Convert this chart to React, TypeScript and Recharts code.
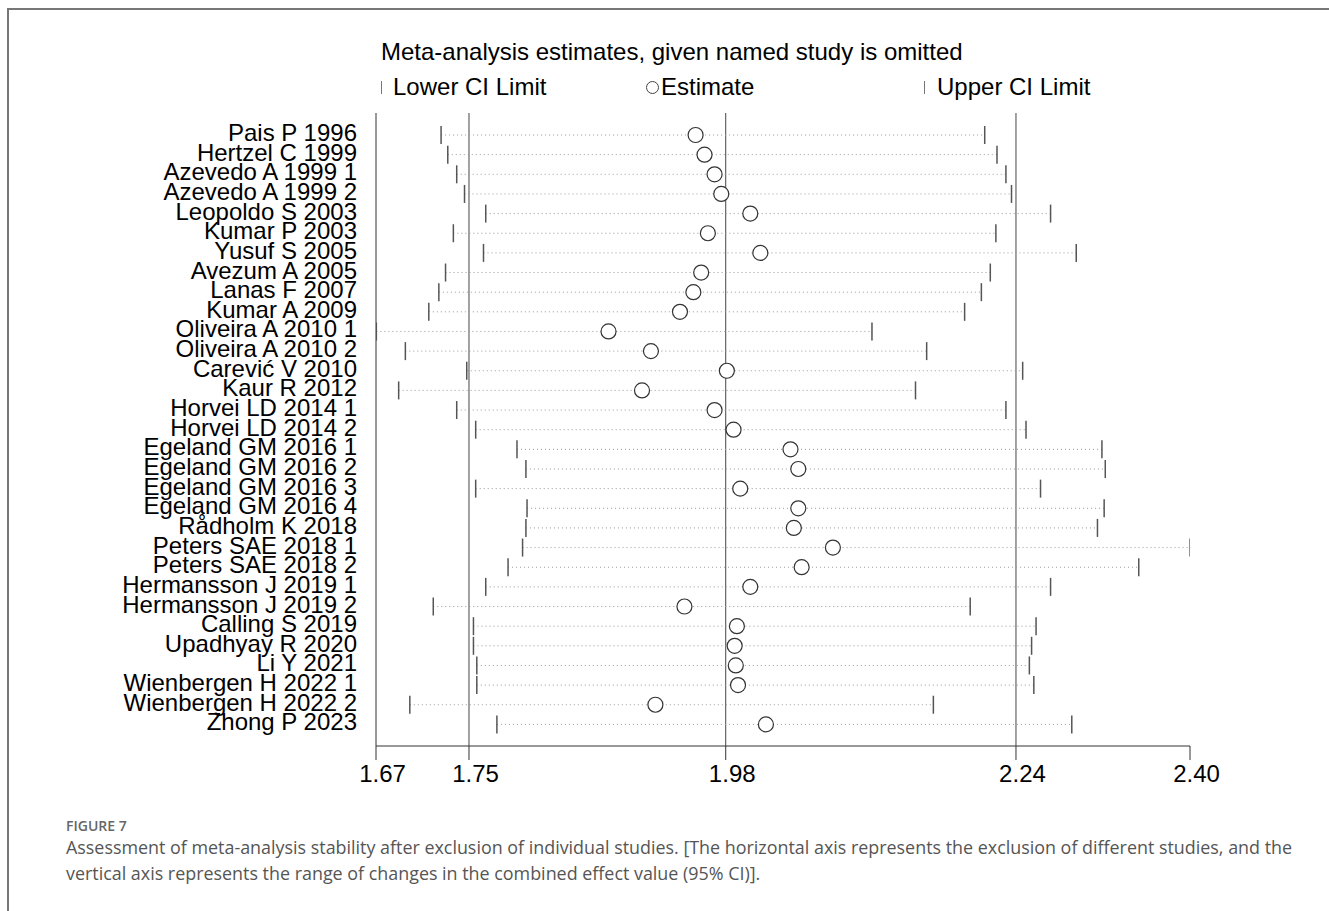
import React from "react"
import {
  ComposedChart, Scatter, XAxis, YAxis, ReferenceLine, ErrorBar
} from "recharts"

// study omitted, estimate and CI when that study is left out
const studies = [
  "Pais P 1996", "Hertzel C 1999", "Azevedo A 1999 1", "Azevedo A 1999 2",
  "Leopoldo S 2003", "Kumar P 2003", "Yusuf S 2005", "Avezum A 2005",
  "Lanas F 2007", "Kumar A 2009", "Oliveira A 2010 1", "Oliveira A 2010 2",
  "Carević V 2010", "Kaur R 2012", "Horvei LD 2014 1", "Horvei LD 2014 2",
  "Egeland GM 2016 1", "Egeland GM 2016 2", "Egeland GM 2016 3", "Egeland GM 2016 4",
  "Rådholm K 2018", "Peters SAE 2018 1", "Peters SAE 2018 2", "Hermansson J 2019 1",
  "Hermansson J 2019 2", "Calling S 2019", "Upadhyay R 2020", "Li Y 2021",
  "Wienbergen H 2022 1", "Wienbergen H 2022 2", "Zhong P 2023",
]

const lower = [
  1.725, 1.731, 1.739, 1.746, 1.765, 1.736, 1.763, 1.729,
  1.723, 1.714, 1.667, 1.693, 1.748, 1.687, 1.739, 1.756,
  1.793, 1.801, 1.756, 1.802, 1.801, 1.798, 1.785, 1.765,
  1.718, 1.754, 1.754, 1.757, 1.757, 1.697, 1.775,
]

const estimate = [
  1.953, 1.961, 1.970, 1.976, 2.002, 1.964, 2.011, 1.958,
  1.951, 1.939, 1.875, 1.913, 1.981, 1.905, 1.970, 1.987,
  2.038, 2.045, 1.993, 2.045, 2.041, 2.076, 2.048, 2.002,
  1.943, 1.990, 1.988, 1.989, 1.991, 1.917, 2.016,
]

const upper = [
  2.212, 2.223, 2.231, 2.236, 2.271, 2.222, 2.294, 2.217,
  2.209, 2.194, 2.111, 2.160, 2.246, 2.150, 2.231, 2.249,
  2.317, 2.320, 2.262, 2.319, 2.313, 2.396, 2.350, 2.271,
  2.199, 2.258, 2.254, 2.252, 2.256, 2.166, 2.290,
]

// overall estimate and its CI (vertical lines)
const refLines = [1.75, 1.98, 2.24]
const xTicks = [1.6667, 1.75, 1.98, 2.24, 2.3959]

const rows = studies.map((s, i) => i + 1)
const estData = rows.map((pos, i) => ({
  x: estimate[i], y: pos, err: [estimate[i] - lower[i], upper[i] - estimate[i]],
}))
const lowData = rows.map((pos, i) => ({ x: lower[i], y: pos }))
const highData = rows.map((pos, i) => ({ x: upper[i], y: pos }))

const FONT = "'Liberation Sans', Arial, sans-serif"
const CAPTION_FONT = "'Open Sans', 'Noto Sans', sans-serif"

const StudyTick = (props: any) => {
  const { x, y, payload } = props
  return (
    <text x={x - 11} y={y + 6} textAnchor="end" fontSize={24} fontFamily={FONT} fill="#000">
      {studies[payload.value - 1]}
    </text>
  )
}

const ValueTick = (props: any) => {
  const { x, y, payload } = props
  return (
    <text x={x + 6.5} y={y + 20} textAnchor="middle" fontSize={24} fontFamily={FONT} fill="#000">
      {Number(payload.value).toFixed(2)}
    </text>
  )
}

const CiTick = (props: any) => (
  <line x1={props.cx} x2={props.cx} y1={props.cy - 9} y2={props.cy + 9} stroke="#555" strokeWidth={1.5} />
)

const Ring = (props: any) => (
  <circle cx={props.cx} cy={props.cy} r={7.5} fill="#fff" stroke="#333" strokeWidth={1.2} />
)

const Blank = () => <g />

export default function App() {
  return (
    <div style={{ position: "absolute", left: 0, top: 0, width: 1329, height: 911, background: "#fff", overflow: "hidden" }}>
      <div style={{ position: "absolute", left: 7, top: 8, width: 1340, height: 920, borderTop: "2px solid #777", borderLeft: "2px solid #777" }} />

      <div style={{ position: "absolute", left: 381, top: 40, fontFamily: FONT, fontSize: 24, lineHeight: "24px", whiteSpace: "nowrap" }}>
        Meta-analysis estimates, given named study is omitted
      </div>
      <div style={{ position: "absolute", left: 0, top: 75, width: 1329, height: 26, fontFamily: FONT, fontSize: 24, lineHeight: "24px", whiteSpace: "nowrap" }}>
        <span style={{ position: "absolute", left: 381, top: 6, width: 1, height: 13, background: "#777" }} />
        <span style={{ position: "absolute", left: 393 }}>Lower CI Limit</span>
        <span style={{ position: "absolute", left: 646, top: 6, width: 11, height: 11, borderRadius: "50%", border: "1px solid #444" }} />
        <span style={{ position: "absolute", left: 661 }}>Estimate</span>
        <span style={{ position: "absolute", left: 924, top: 6, width: 1, height: 13, background: "#777" }} />
        <span style={{ position: "absolute", left: 937 }}>Upper CI Limit</span>
      </div>

      <div style={{ position: "absolute", left: 0, top: 0 }}>
        <ComposedChart width={1329} height={911} margin={{ top: 113, right: 139, bottom: 135, left: 0 }}>
          <XAxis
            type="number"
            dataKey="x"
            domain={[1.6667, 2.3959]}
            allowDataOverflow
            ticks={xTicks}
            interval={0}
            tick={<ValueTick />}
            tickSize={14}
            height={30}
            axisLine={{ stroke: "#333" }}
            tickLine={{ stroke: "#333" }}
          />
          <YAxis
            type="number"
            dataKey="y"
            domain={[-0.12, 32.1]}
            allowDataOverflow
            reversed
            ticks={rows}
            interval={0}
            tick={<StudyTick />}
            tickLine={false}
            width={376}
            axisLine={{ stroke: "#333" }}
          />
          {refLines.map(v => (
            <ReferenceLine key={v} x={v} stroke="#444" strokeWidth={1} />
          ))}
          <Scatter data={estData} shape={<Blank />} isAnimationActive={false}>
            <ErrorBar dataKey="err" direction="x" width={0} stroke="#999" strokeWidth={1} strokeDasharray="1 3" isAnimationActive={false} />
          </Scatter>
          <Scatter data={lowData} shape={<CiTick />} isAnimationActive={false} />
          <Scatter data={highData} shape={<CiTick />} isAnimationActive={false} />
          <Scatter data={estData} shape={<Ring />} isAnimationActive={false} />
        </ComposedChart>
      </div>

      <div style={{ position: "absolute", left: 66, top: 816, fontFamily: CAPTION_FONT, fontSize: 14, fontWeight: 600, color: "#666", lineHeight: "20px" }}>
        FIGURE 7
      </div>
      <div style={{ position: "absolute", left: 66, top: 834, fontFamily: CAPTION_FONT, fontSize: 17.9, color: "#555", lineHeight: "26px", whiteSpace: "nowrap" }}>
        <div>Assessment of meta-analysis stability after exclusion of individual studies. [The horizontal axis represents the exclusion of different studies, and the</div>
        <div>vertical axis represents the range of changes in the combined effect value (95% CI)].</div>
      </div>
    </div>
  )
}
